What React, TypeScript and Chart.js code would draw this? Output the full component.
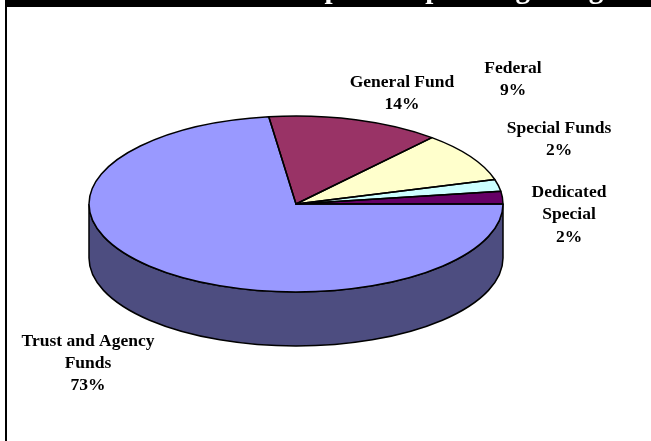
import React, { useEffect, useRef } from "react";
import { Chart, registerables } from "chart.js";

Chart.register(...registerables);

const categories = ["Trust and Agency Funds", "General Fund", "Federal", "Special Funds", "Dedicated Special"];
const shares = [72.9, 13.5, 9.1, 2.2, 2.3];
const sliceColors = ["#9999FF", "#993366", "#FFFFCC", "#CCFFFF", "#660066"];
const wallColors = ["#4D4D80", "#4D1A33", "#808066", "#668080", "#330033"];
const titleText = "Proposed Operating Budget";
const labelLines = [
  ["Trust and Agency", "Funds", "73%"],
  ["General Fund", "14%"],
  ["Federal", "9%"],
  ["Special Funds", "2%"],
  ["Dedicated", "Special", "2%"],
];
const labelAnchors = [
  [88, 345.5],
  [402, 86.5],
  [513, 73],
  [559, 133],
  [569, 197],
];

const W = 651;
const H = 441;
const CENTER_Y = 204;
const SQUASH = 0.425;
const DEPTH = 54;
const FONT = 'bold 17.5px "Liberation Serif"';
const LINE_STEP = 22.3;
const OUTLINE = 1.5;

const pie3d = {
  id: "pie3d",
  beforeDraw(chart: any) {
    const { ctx } = chart;
    ctx.save();
    ctx.fillStyle = "#fff";
    ctx.fillRect(0, 0, W, H);
    ctx.fillStyle = "#000";
    ctx.fillRect(5, 0, W - 5, 7);
    ctx.fillRect(5, 0, 2, H);
    ctx.fillStyle = "#fff";
    ctx.font = 'bold 29px "Liberation Serif"';
    ctx.textAlign = "left";
    ctx.textBaseline = "alphabetic";
    ctx.fillText(titleText, 280, -2.3);
    ctx.restore();
  },
  beforeDatasetsDraw(chart: any) {
    const { ctx } = chart;
    const arcs = chart.getDatasetMeta(0).data;
    ctx.save();
    ctx.lineWidth = OUTLINE;
    ctx.strokeStyle = "#000";
    arcs.forEach((arc: any, i: number) => {
      const p = arc.getProps(["x", "startAngle", "endAngle", "outerRadius"], true);
      const a0 = Math.max(p.startAngle, 0);
      const a1 = Math.min(p.endAngle, Math.PI);
      if (a1 <= a0) return;
      const ry = p.outerRadius * SQUASH;
      ctx.beginPath();
      ctx.ellipse(p.x, CENTER_Y, p.outerRadius, ry, 0, a0, a1);
      ctx.ellipse(p.x, CENTER_Y + DEPTH, p.outerRadius, ry, 0, a1, a0, true);
      ctx.closePath();
      ctx.fillStyle = wallColors[i];
      ctx.fill();
      ctx.stroke();
    });
    ctx.restore();
    const first = arcs[0].getProps(["x", "y"], true);
    ctx.save();
    ctx.translate(first.x, CENTER_Y);
    ctx.scale(1, SQUASH);
    ctx.translate(-first.x, -first.y);
  },
  afterDatasetsDraw(chart: any) {
    const { ctx } = chart;
    ctx.restore();
    const arcs = chart.getDatasetMeta(0).data;
    ctx.save();
    ctx.lineWidth = OUTLINE;
    ctx.strokeStyle = "#000";
    ctx.lineJoin = "round";
    arcs.forEach((arc: any) => {
      const p = arc.getProps(["x", "startAngle", "endAngle", "outerRadius"], true);
      ctx.beginPath();
      ctx.moveTo(p.x, CENTER_Y);
      ctx.ellipse(p.x, CENTER_Y, p.outerRadius, p.outerRadius * SQUASH, 0, p.startAngle, p.endAngle);
      ctx.closePath();
      ctx.stroke();
    });
    ctx.fillStyle = "#000";
    ctx.font = FONT;
    ctx.textAlign = "center";
    ctx.textBaseline = "alphabetic";
    labelLines.forEach((lines, i) => {
      lines.forEach((line, j) => {
        ctx.fillText(line, labelAnchors[i][0], labelAnchors[i][1] + j * LINE_STEP);
      });
    });
    ctx.restore();
  },
};

export default function App() {
  const ref = useRef<HTMLCanvasElement>(null);
  useEffect(() => {
    const chart = new Chart(ref.current!, {
      type: "pie",
      data: {
        labels: categories,
        datasets: [
          {
            data: shares,
            backgroundColor: sliceColors,
            borderWidth: 0,
            clip: false,
          } as any,
        ],
      },
      options: {
        animation: false,
        responsive: false,
        events: [],
        rotation: 90,
        layout: { padding: { left: 89, right: 148, top: 14, bottom: 13 } },
        plugins: { legend: { display: false }, tooltip: { enabled: false }, title: { display: false } },
      },
      plugins: [pie3d],
    } as any);
    return () => chart.destroy();
  }, []);
  return (
    <div style={{ position: "absolute", left: 0, top: 0, width: W, height: H }}>
      <canvas ref={ref} width={W} height={H} style={{ display: "block" }} />
    </div>
  );
}
